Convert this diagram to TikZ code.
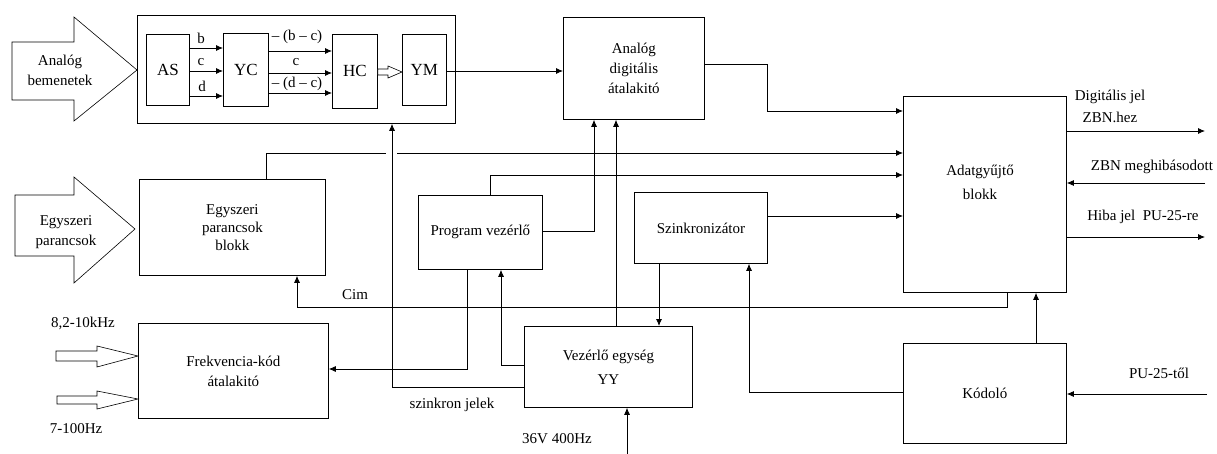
\documentclass[tikz,border=0pt]{standalone}
\usepackage{fontspec}
\setmainfont{Liberation Serif}
\usetikzlibrary{arrows.meta}
\begin{document}
\begin{tikzpicture}[x=1pt,y=-1pt,
  line width=0.8pt,
  font=\fontsize{15}{20}\selectfont,
  box/.style={draw, anchor=north west, inner sep=0pt, align=center},
  big/.style={font=\fontsize{17}{20}\selectfont},
  arr/.style={-{Latex[length=7pt,width=6pt]}},
  lbl/.style={inner sep=0pt, align=center},
  hollow/.style={draw, fill=white, line width=0.6pt}
]
\useasboundingbox (0,0) rectangle (1217,454);

% boxes
\node[box, minimum width=318pt, minimum height=108pt] (outer) at (137,15) {};
\node[box, big, minimum width=43pt, minimum height=71pt] (AS) at (146,34) {AS};
\node[box, big, minimum width=45pt, minimum height=73pt] (YC) at (223,33) {YC};
\node[box, big, minimum width=45pt, minimum height=74pt] (HC) at (332,34) {HC};
\node[box, big, minimum width=44pt, minimum height=71pt] (YM) at (402,34) {YM};
\node[box, minimum width=141pt, minimum height=102pt] (ADC) at (563,17) {Analóg\\digitális\\átalakitó};
\node[box, minimum width=163pt, minimum height=196pt] (Adat) at (903,96) {};
\node[lbl] (Adatt) at (980,182) {Adatgyűjtő\\[4pt]blokk};
\node[box, minimum width=186pt, minimum height=96pt] (Egy) at (139,179) {Egyszeri\\[-2pt]parancsok\\[-2pt]blokk};
\node[box, minimum width=124pt, minimum height=74pt] (PV) at (418,195) {Program vezérlő};
\node[box, minimum width=133pt, minimum height=71pt] (Szink) at (634,192) {Szinkronizátor};
\node[box, minimum width=168pt, minimum height=81pt] (VE) at (524,326) {Vezérlő egység\\[4pt]YY};
\node[box, minimum width=190pt, minimum height=95pt] (Frek) at (138,323) {Frekvencia-kód\\átalakitó};
\node[box, minimum width=163pt, minimum height=100pt] (Kod) at (903,343) {Kódoló};

% hollow input arrows
\draw[hollow] (12,42) -- (74,42) -- (74,17) -- (137,70) -- (74,121) -- (74,100) -- (12,100) -- cycle;
\node[lbl] (ain) at (60,70) {Analóg\\bemenetek};
\draw[hollow] (15,195) -- (74,195) -- (74,177) -- (135,229) -- (74,283) -- (74,256) -- (15,256) -- cycle;
\node[lbl] (ein) at (66,232) {Egyszeri\\parancsok};
\draw[hollow] (56,351) -- (97,351) -- (97,346) -- (138,356) -- (97,367) -- (97,361) -- (56,361) -- cycle;
\draw[hollow] (57,396) -- (97,396) -- (97,391) -- (138,399) -- (97,409) -- (97,404) -- (57,404) -- cycle;
\draw[hollow] (HC.east |- 0,69) -- (388,69) -- (388,66) -- (YM.west |- 0,72) -- (388,78) -- (388,75) -- (HC.east |- 0,75) -- cycle;

% AS -> YC
\draw[arr] (AS.east |- 0,48) -- (YC.west |- 0,48);
\draw[arr] (AS.east |- 0,71) -- (YC.west |- 0,71);
\draw[arr] (AS.east |- 0,96) -- (YC.west |- 0,96);
\node[lbl] (lb) at (201,38) {b};
\node[lbl] (lc) at (201,62) {c};
\node[lbl] (ld) at (202,86) {d};
% YC -> HC
\draw[arr] (YC.east |- 0,51) -- (HC.west |- 0,51);
\draw[arr] (YC.east |- 0,73) -- (HC.west |- 0,73);
\draw[arr] (YC.east |- 0,93) -- (HC.west |- 0,93);
\node[lbl] (lbc) at (297,37) {– (b – c)};
\node[lbl] (lc2) at (296,62) {c};
\node[lbl] (ldc) at (297,84) {– (d – c)};

% YM -> ADC
\draw[arr] (YM.east |- 0,71) -- (ADC.west |- 0,71);
% ADC -> Adat
\draw[arr] (ADC.east |- 0,64) -- (767,64) -- (767,111) -- (Adat.west |- 0,111);
% Egy -> Adat
\draw[arr] (Egy.north -| 266,0) -- (266,153) -- (386,153) (397,153) -- (Adat.west |- 0,153);
% PV -> Adat
\draw[arr] (PV.north -| 490,0) -- (490,175) -- (Adat.west |- 0,175);
% PV -> ADC
\draw[arr] (PV.east |- 0,231) -- (594,231) -- (ADC.south -| 594,0);
% VE -> ADC
\draw[arr] (VE.north -| 616,0) -- (ADC.south -| 616,0);
% Szink -> Adat
\draw[arr] (Szink.east |- 0,216) -- (Adat.west |- 0,216);
% Szink -> VE
\draw[arr] (Szink.south -| 659,0) -- (VE.north -| 659,0);
% Kod -> Szink
\draw[arr] (Kod.west |- 0,392) -- (749,392) -- (Szink.south -| 749,0);
% Kod -> Adat
\draw[arr] (Kod.north -| 1036,0) -- (Adat.south -| 1036,0);
% Adat -> Egy (Cim)
\draw[arr] (Adat.south -| 1007,0) -- (1007,307) -- (297,307) -- (Egy.south -| 297,0);
\node[lbl] (cim) at (355,295) {Cim};
% PV -> Frek
\draw[arr] (PV.south -| 467,0) -- (467,369) -- (Frek.east |- 0,369);
% VE -> PV
\draw[arr] (VE.west |- 0,365) -- (501,365) -- (PV.south -| 501,0);
% VE -> outer (szinkron jelek)
\draw[arr] (VE.west |- 0,387) -- (392,387) -- (outer.south -| 392,0);
\node[lbl] (szj) at (452,405) {szinkron jelek};
% power
\coordinate (pwr) at (627,454);
\draw[arr] (pwr) -- (VE.south -| pwr);
\node[lbl] (pwrt) at (557,439) {36V 400Hz};

% right side
\coordinate (o1) at (1205,131);
\coordinate (o3) at (1205,237);
\coordinate (i1) at (1205,183);
\coordinate (i2) at (1207,394);
\draw[arr] (Adat.east |- o1) -- (o1);
\draw[arr] (Adat.east |- o3) -- (o3);
\draw[arr] (i1) -- (Adat.east |- i1);
\draw[arr] (i2) -- (Kod.east |- i2);
\node[lbl] (dj) at (1110,106) {Digitális jel\\[2pt]ZBN.hez};
\node[lbl] (zbn) at (1152,167) {ZBN meghibásodott};
\node[lbl] (hj) at (1143,217) {Hiba jel\ \ PU-25-re};
\node[lbl] (pu) at (1159,373) {PU-25-től};

% frequency labels
\node[lbl] (f1) at (83,323) {8,2-10kHz};
\node[lbl] (f2) at (76,429) {7-100Hz};
\end{tikzpicture}
\end{document}
